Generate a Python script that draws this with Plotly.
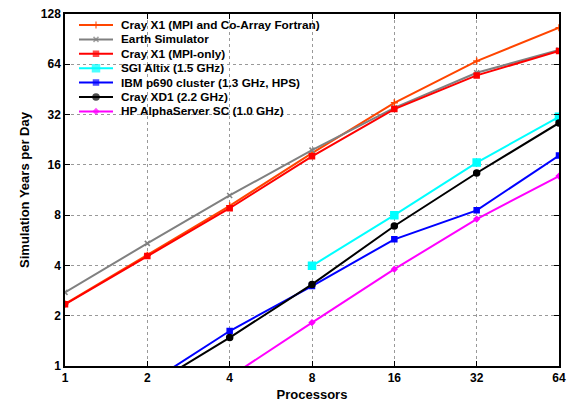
import plotly.graph_objects as go

procs = [1, 2, 4, 8, 16, 32, 64]

names = [
    "Cray X1 (MPI and Co-Array Fortran)",
    "Earth Simulator",
    "Cray X1 (MPI-only)",
    "SGI Altix (1.5 GHz)",
    "IBM p690 cluster (1.3 GHz, HPS)",
    "Cray XD1 (2.2 GHz)",
    "HP AlphaServer SC (1.0 GHz)",
]

x1_caf = [2.35, 4.6, 9.1, 18.8, 37.6, 66.9, 106]
earth_sim = [2.76, 5.42, 10.5, 19.6, 35.1, 56.9, 77.9]
x1_mpi = [2.34, 4.55, 8.8, 18.0, 34.5, 54.9, 76.8]
sgi_procs = [8, 16, 32, 64]
sgi = [3.98, 8.0, 16.5, 31.0]
ibm_procs = [2, 4, 8, 16, 32, 64]
ibm = [0.78, 1.62, 3.01, 5.73, 8.55, 18.2]
xd1_procs = [2, 4, 8, 16, 32, 64]
xd1 = [0.74, 1.48, 3.08, 6.89, 14.3, 28.5]
hp_procs = [4, 8, 16, 32, 64]
hp = [0.86, 1.82, 3.8, 7.58, 13.7]

xs = [procs, procs, procs, sgi_procs, ibm_procs, xd1_procs, hp_procs]
ys = [x1_caf, earth_sim, x1_mpi, sgi, ibm, xd1, hp]
colors = ["#ff4500", "#808080", "#ff0000", "#00ffff", "#0000ff", "#000000", "#ff00ff"]
symbols = ["cross-thin", "x-thin", "square", "square", "square", "circle", "diamond"]
sizes = [5, 5, 5, 7, 5, 6, 4]

FONT = "Liberation Sans, Arial, sans-serif"

fig = go.Figure()
for n, x, y, c, s, sz in zip(names, xs, ys, colors, symbols, sizes):
    fig.add_trace(go.Scatter(
        x=x, y=y, name=n, mode="lines+markers",
        line=dict(color=c, width=2),
        marker=dict(symbol=s, size=sz, color=c, line=dict(color=c, width=1.5)),
        showlegend=False,
    ))

# Manual compact legend drawn on an overlay axis measured in pixels
leg_x0, leg_x1, leg_txt = 79, 113, 119
leg_top, leg_step = 25, 14.4
annotations = []
for i, (n, c, s, sz) in enumerate(zip(names, colors, symbols, sizes)):
    yy = leg_top + i * leg_step
    fig.add_trace(go.Scatter(
        x=[leg_x0, (leg_x0 + leg_x1) / 2, leg_x1], y=[yy, yy, yy],
        mode="lines+markers", xaxis="x2", yaxis="y2",
        line=dict(color=c, width=2),
        marker=dict(symbol=s, size=[0, sz, 0], color=c, line=dict(color=c, width=1.5)),
        showlegend=False, hoverinfo="skip",
    ))
    annotations.append(dict(
        x=leg_txt, y=yy, xref="x2", yref="y2", text=n, showarrow=False,
        xanchor="left", yanchor="middle",
        font=dict(family=FONT, size=11.8, color="black", weight="bold"),
    ))

tick_font = dict(family=FONT, size=12, color="black", weight="bold")
fig.update_layout(
    width=568, height=402,
    margin=dict(l=65, r=9, t=14, b=36, autoexpand=False),
    plot_bgcolor="white", paper_bgcolor="white",
    showlegend=False,
    annotations=annotations,
    xaxis=dict(
        type="log", range=[0, 1.80618], tickvals=procs, ticktext=[str(p) for p in procs],
        showline=True, linecolor="black", linewidth=1.5, mirror="ticks",
        ticks="inside", ticklen=5, tickcolor="black",
        showgrid=True, gridcolor="#999999", griddash="dot", gridwidth=1,
        tickfont=tick_font, automargin=False,
        title=dict(text="Processors", font=dict(family=FONT, size=13, color="black", weight="bold"), standoff=10),
        zeroline=False,
    ),
    yaxis=dict(
        type="log", range=[0, 2.10721], tickvals=[1, 2, 4, 8, 16, 32, 64, 128],
        ticktext=["1", "2", "4", "8", "16", "32", "64", "128"],
        showline=True, linecolor="black", linewidth=1.5, mirror="ticks",
        ticks="inside", ticklen=5, tickcolor="black",
        showgrid=True, gridcolor="#999999", griddash="dot", gridwidth=1,
        tickfont=tick_font, automargin=False,
        title=dict(text="Simulation Years per Day", font=dict(family=FONT, size=13, color="black", weight="bold"), standoff=8),
        zeroline=False,
    ),
    xaxis2=dict(overlaying="x", range=[65, 559], visible=False, fixedrange=True),
    yaxis2=dict(overlaying="y", range=[366, 14], visible=False, fixedrange=True),
)

fig.write_html("out.html")
